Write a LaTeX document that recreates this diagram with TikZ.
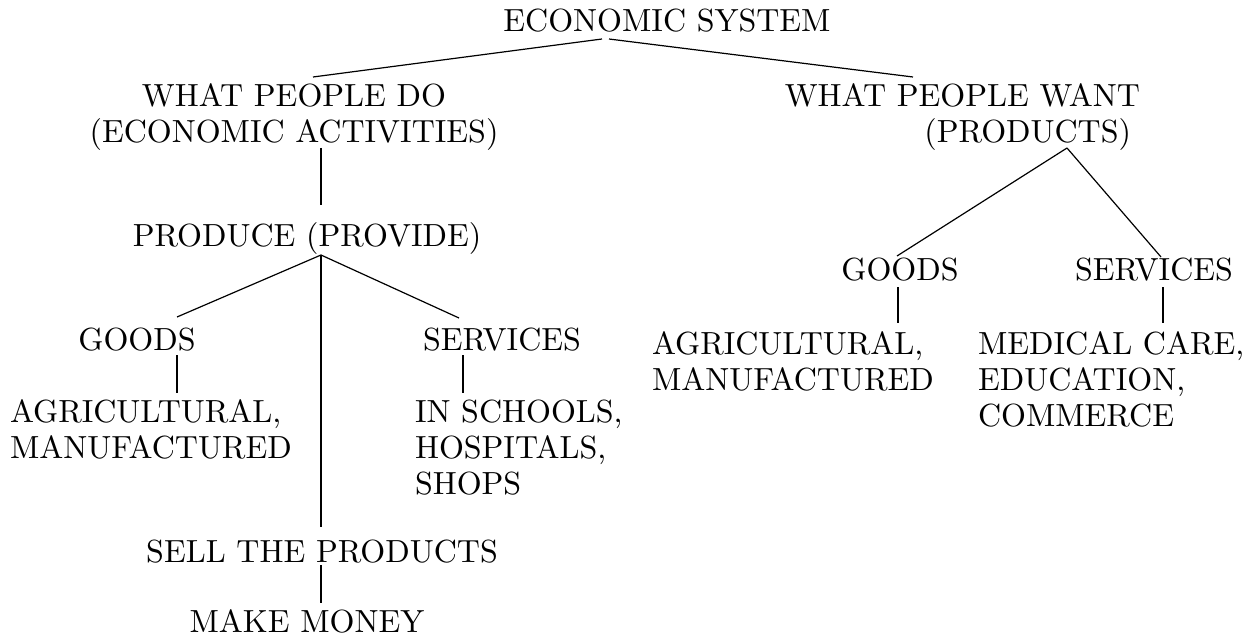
\documentclass[tikz,border=0pt]{standalone}
\begin{document}
\begin{tikzpicture}[x=1pt,y=-1pt,
  lbl/.style={inner sep=0pt, outer sep=0pt, font=\fontsize{10}{11.25}\selectfont, scale=3.2},
  conn/.style={line width=1.2pt}]
\useasboundingbox[fill=white] (0,0) rectangle (1252,639);
% nodes (base anchor of a multi-line node = baseline of its last line)
\node[lbl, anchor=base] (es) at (667,32) {ECONOMIC SYSTEM};
\node[lbl, anchor=base, align=center] (wpd) at (294,143) {WHAT PEOPLE DO\\(ECONOMIC ACTIVITIES)};
\node[lbl, anchor=base east, align=right] (wpw) at (1140,143) {WHAT PEOPLE WANT\\(PRODUCTS)\hspace*{0.28em}};
\node[lbl, anchor=base] (prod) at (307,246) {PRODUCE (PROVIDE)};
\node[lbl, anchor=base] (lgoods) at (137,350) {GOODS};
\node[lbl, anchor=base] (lserv) at (502,350) {SERVICES};
\node[lbl, anchor=base west, align=left] (lagr) at (10,458) {AGRICULTURAL,\\MANUFACTURED};
\node[lbl, anchor=base west, align=left] (lsch) at (415,494) {IN SCHOOLS,\\HOSPITALS,\\SHOPS};
\node[lbl, anchor=base] (sell) at (322,562) {SELL THE PRODUCTS};
\node[lbl, anchor=base] (money) at (307,632) {MAKE MONEY};
\node[lbl, anchor=base] (rgoods) at (900,280) {GOODS};
\node[lbl, anchor=base] (rserv) at (1154,280) {SERVICES};
\node[lbl, anchor=base west, align=left] (ragr) at (652,390) {AGRICULTURAL,\\MANUFACTURED};
\node[lbl, anchor=base west, align=left] (rmed) at (978,426) {MEDICAL CARE,\\EDUCATION,\\COMMERCE};
% connector end points
\coordinate (esL) at (602,39);
\coordinate (esR) at (609,39);
\coordinate (wpdT) at (313,77);
\coordinate (wpwT) at (913,77);
\coordinate (wpdB) at (321,148);
\coordinate (prodT) at (321,205);
\coordinate (prodB) at (321,255);
\coordinate (lgoodsT) at (177,317);
\coordinate (lservT) at (459,318);
\coordinate (sellT) at (321,527);
\coordinate (lgoodsB) at (177,355);
\coordinate (lagrT) at (177,393);
\coordinate (lservB) at (463,355);
\coordinate (lschT) at (463,393);
\coordinate (sellB) at (321,565);
\coordinate (moneyT) at (321,603);
\coordinate (wpwB) at (1067,148);
\coordinate (rgoodsT) at (897,256);
\coordinate (rservT) at (1161,257);
\coordinate (rgoodsB) at (898,287);
\coordinate (ragrT) at (898,323);
\coordinate (rservB) at (1163,287);
\coordinate (rmedT) at (1163,323);
% connectors
\draw[conn] (esL) -- (wpdT);
\draw[conn] (esR) -- (wpwT);
\draw[conn] (wpdB) -- (prodT);
\draw[conn] (prodB) -- (lgoodsT);
\draw[conn] (prodB) -- (lservT);
\draw[conn] (prodB) -- (sellT);
\draw[conn] (lgoodsB) -- (lagrT);
\draw[conn] (lservB) -- (lschT);
\draw[conn] (sellB) -- (moneyT);
\draw[conn] (wpwB) -- (rgoodsT);
\draw[conn] (wpwB) -- (rservT);
\draw[conn] (rgoodsB) -- (ragrT);
\draw[conn] (rservB) -- (rmedT);
\end{tikzpicture}
\end{document}
